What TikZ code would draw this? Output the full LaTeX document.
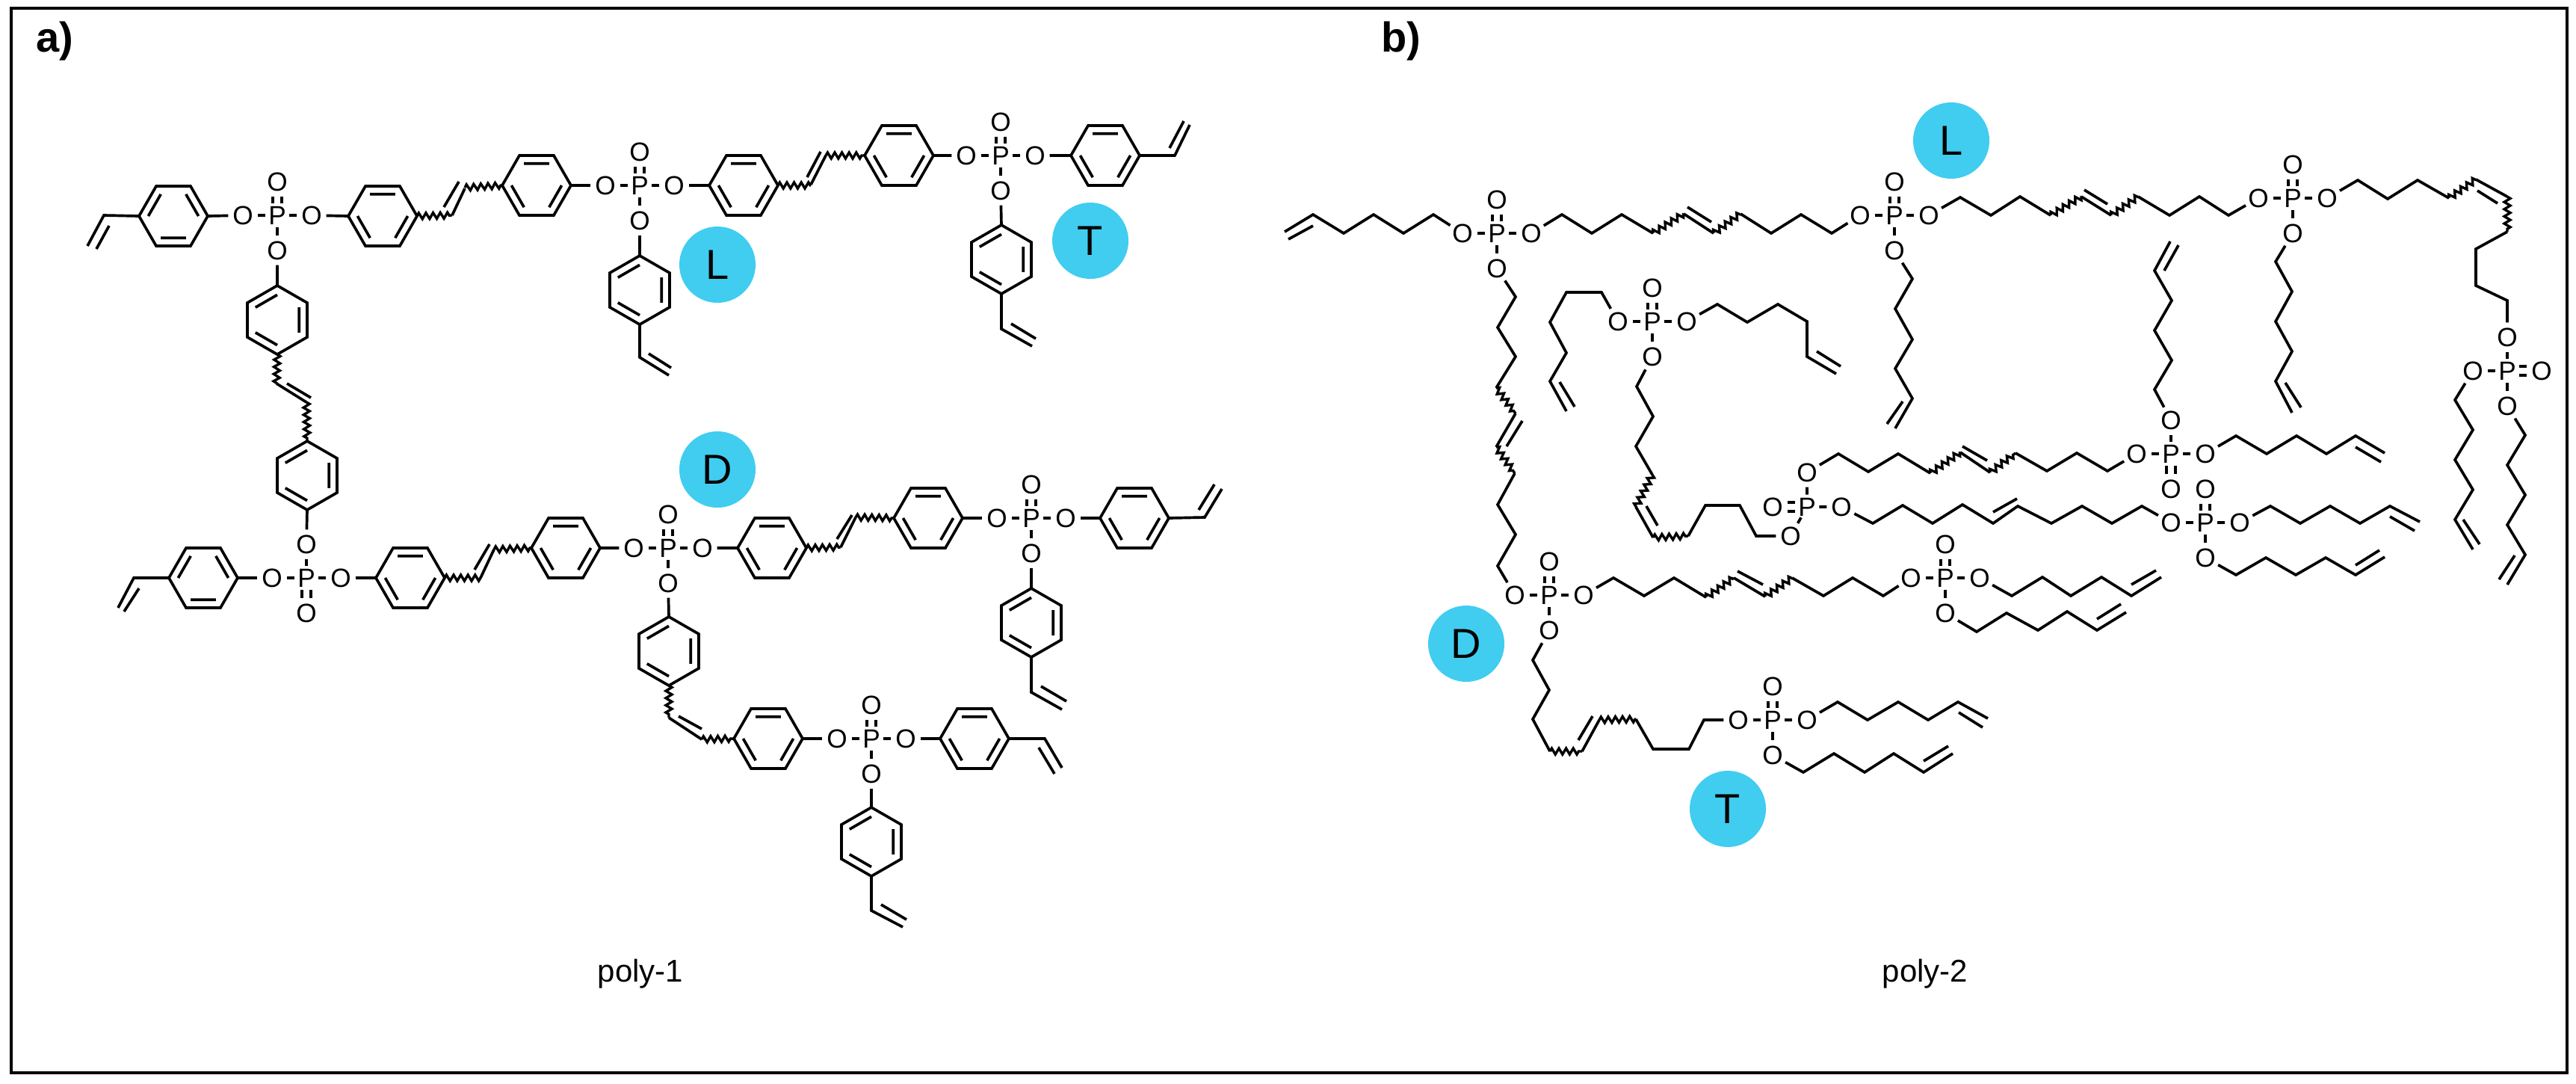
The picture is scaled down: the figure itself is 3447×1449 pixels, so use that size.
\documentclass[tikz,border=0pt]{standalone}
\usepackage{fontspec}
\setmainfont{Liberation Sans}
\usetikzlibrary{decorations.pathmorphing}
\definecolor{badgecol}{HTML}{40CDF0}
\tikzset{
  bd/.style={line width=0.92pt,line join=miter,black},
  wv/.style={bd,line width=0.85pt,decorate,decoration={zigzag,segment length=2.4pt,amplitude=1pt}},
  dblbd/.style={line width=0.85pt,double=white,double distance=2.2pt,black},
  oat/.style={circle,inner sep=0pt,minimum size=9.4pt,font=\fontsize{8.8}{9}\selectfont},
  pat/.style={circle,inner sep=0pt,minimum size=7.8pt,font=\fontsize{8.8}{9}\selectfont},
  badge/.style={circle,fill=badgecol,inner sep=0pt,minimum size=25.5pt,font=\fontsize{14}{16}\selectfont},
  captxt/.style={inner sep=0pt,font=\fontsize{10.5}{12}\selectfont},
  panel/.style={inner sep=0pt,font=\bfseries\fontsize{14}{16}\selectfont},
}
\newcommand{\atom}[1]{\raisebox{-.36em}[0pt][0pt]{\makebox[0pt]{#1}}}
% phosphate: id, x, y, side of the P=O double bond
\newcommand{\Phos}[4]{%
  \node[pat] (#1) at (#2,#3) {\atom{P}};
  \node[oat] (#1L) at (#2-46,#3) {\atom{O}};
  \node[oat] (#1R) at (#2+46,#3) {\atom{O}};
  \node[oat] (#1T) at (#2,#3-45) {\atom{O}};
  \node[oat] (#1B) at (#2,#3+47) {\atom{O}};
  \foreach \d in {L,R,T,B}{\if\d#4 \draw[dblbd] (#1)--(#1\d);\else \draw[bd] (#1)--(#1\d);\fi}%
}
% flat-topped ring: id, cx, cy, A or B
\newcommand{\RingF}[4]{%
  \coordinate (#1W) at (#2-46,#3);
  \coordinate (#1E) at (#2+46,#3);
  \draw[bd] (#1W)--(#2-23,#3-40)--(#2+23,#3-40)--(#1E)--(#2+23,#3+40)--(#2-23,#3+40)--cycle;
  \if A#4
    \draw[bd] (#2-33.6,#3)--(#2-16.8,#3-29.2) (#2+33.6,#3)--(#2+16.8,#3-29.2) (#2-16.8,#3+29.2)--(#2+16.8,#3+29.2);
  \else
    \draw[bd] (#2-16.8,#3-29.2)--(#2+16.8,#3-29.2) (#2-33.6,#3)--(#2-16.8,#3+29.2) (#2+33.6,#3)--(#2+16.8,#3+29.2);
  \fi
}
% pointy-topped ring: id, cx, cy
\newcommand{\RingP}[3]{%
  \coordinate (#1N) at (#2,#3-46);
  \coordinate (#1S) at (#2,#3+46);
  \draw[bd] (#1N)--(#2+40,#3-23)--(#2+40,#3+23)--(#1S)--(#2-40,#3+23)--(#2-40,#3-23)--cycle;
  \draw[bd] (#2-29.2,#3-16.8)--(#2,#3-33.6) (#2+29.2,#3-16.8)--(#2+29.2,#3+16.8) (#2-29.2,#3+16.8)--(#2,#3+33.6);
}
\begin{document}
\begin{tikzpicture}[x=0.25pt,y=-0.25pt]
\path[use as bounding box] (0,0) rectangle (3447,1449);
\draw[line width=1.1pt] (15,11) rectangle (3435,1435);
\node[panel] (lba) at (73,55) {a)};
\node[panel] (lbb) at (1875,55) {b)};
\node[captxt] (capa) at (857,1303) {poly-1};
\node[captxt] (capb) at (2576,1303) {poly-2};
% badges
\node[badge] (b1L) at (960,354) {L};
\node[badge] (b1T) at (1459,322) {T};
\node[badge] (b1D) at (960,628) {D};
\node[badge] (b2L) at (2611,188) {L};
\node[badge] (b2D) at (1962,861) {D};
\node[badge] (b2T) at (2312,1082) {T};
%% ---------- poly-1 ----------
\Phos{pa}{371}{288}{T}
\RingF{ra}{232}{289}{A}
\RingF{rb}{512}{289}{B}
\RingP{rc}{371}{428}
\draw[bd] (raE)--(paL) (paR)--(rbW) (paB)--(rcN);
\draw[bd] (raW)--(139,288)--(117,329) (146,302)--(129,333);
\draw[wv] (rcS)--(370,513);
\draw[bd] (370,513)--(410,538) (384,513)--(416,532);
\RingP{rd}{411}{636}
\draw[wv] (410,538)--(rdN);
\Phos{pb}{410}{773}{B}
\draw[bd] (rdS)--(pbT);
\RingF{re}{272}{773}{A}
\RingF{rf}{549}{773}{B}
\draw[bd] (reE)--(pbL) (pbR)--(rfW);
\draw[bd] (reW)--(179,773)--(158,813) (186,787)--(166,818);
\draw[wv] (rfE)--(643,773);
\draw[bd] (643,773)--(661,735) (635,762)--(655,728);
\RingF{rg}{757}{733}{B}
\draw[wv] (661,735)--(rgW);
\Phos{pc}{894}{733}{T}
\RingF{rh}{1033}{733}{B}
\RingP{ri}{895}{871}
\draw[bd] (rgE)--(pcL) (pcR)--(rhW) (pcB)--(riN);
\draw[wv] (rhE)--(1125,732);
\draw[bd] (1125,732)--(1145,692) (1120,721)--(1140,689);
\RingF{rj}{1242}{693}{B}
\draw[wv] (1145,692)--(rjW);
\Phos{pd}{1380}{693}{T}
\RingP{rk}{1380}{833}
\RingF{rl}{1518}{693}{B}
\draw[bd] (rjE)--(pdL) (pdR)--(rlW) (pdB)--(rkN);
\draw[bd] (rkS)--(1380,926)--(1421,949) (1393,918)--(1427,938);
\draw[bd] (rlE)--(1612,692)--(1635,654) (1604,682)--(1625,648);
\draw[wv] (riS)--(895,960);
\draw[bd] (895,960)--(939,989) (908,958)--(939,975);
\RingF{rm}{1028}{988}{B}
\draw[wv] (939,989)--(rmW);
\Phos{pe}{1166}{988}{T}
\RingP{rn}{1166}{1126}
\RingF{ro}{1304}{988}{B}
\draw[bd] (rmE)--(peL) (peR)--(roW) (peB)--(rnN);
\draw[bd] (rnS)--(1166,1218)--(1208,1240) (1179,1210)--(1213,1230);
\draw[bd] (roE)--(1398,988)--(1421,1027) (1390,1000)--(1411,1035);
% top row
\draw[wv] (rbE)--(605,288);
\draw[bd] (605,288)--(622,252) (594,277)--(614,243);
\RingF{rp}{718}{248}{B}
\draw[wv] (622,251)--(rpW);
\Phos{pf}{856}{248}{T}
\RingP{rq}{856}{388}
\RingF{rr}{995}{248}{B}
\draw[bd] (rpE)--(pfL) (pfR)--(rrW) (pfB)--(rqN);
\draw[bd] (rqS)--(856,478)--(895,502) (868,473)--(898,492);
\draw[wv] (rrE)--(1085,248);
\draw[bd] (1085,247)--(1105,208) (1080,237)--(1098,203);
\RingF{rs}{1203}{208}{B}
\draw[wv] (1105,208)--(rsW);
\Phos{pg}{1339}{208}{T}
\RingP{rt}{1340}{347}
\RingF{ru}{1479}{208}{B}
\draw[bd] (rsE)--(pgL) (pgR)--(ruW) (pgB)--(rtN);
\draw[bd] (rtS)--(1340,440)--(1381,463) (1353,433)--(1386,453);
\draw[bd] (ruE)--(1572,208)--(1592,167) (1565,198)--(1584,162);
%% ---------- poly-2 ----------
\Phos{qa}{2003}{312}{T}
\Phos{qb}{2535}{288}{T}
\Phos{qc}{3068}{265}{T}
\Phos{qd}{3355}{496}{R}
\Phos{qe}{2073}{796}{T}
\Phos{qf}{2603}{773}{T}
\Phos{qg}{2372}{963}{T}
\Phos{qh}{2211}{430}{T}
\Phos{qj}{2905}{607}{B}
\Phos{qk}{2951}{699}{T}
\node[pat] (qi) at (2418,678) {\atom{P}};
\node[oat] (qiL) at (2372,678) {\atom{O}};
\node[oat] (qiR) at (2464,678) {\atom{O}};
\node[oat] (qiT) at (2418,632) {\atom{O}};
\node[oat] (qiB) at (2396,717) {\atom{O}};
\draw[dblbd] (qi)--(qiL);
\draw[bd] (qi)--(qiR) (qi)--(qiT) (qi)--(qiB);
% top backbone
\draw[bd] (1719,310)--(1757,287)--(1798,312)--(1838,287)--(1878,312)--(1918,287)--(qaL) (1724,320)--(1757,302);
\draw[bd] (qaR)--(2090,287)--(2130,312)--(2170,287)--(2212,312);
\draw[wv] (2212,312)--(2253,286);
\draw[bd] (2253,286)--(2293,312) (2258,277)--(2290,297);
\draw[wv] (2293,312)--(2329,286);
\draw[bd] (2329,286)--(2370,312)--(2410,287)--(2451,312)--(qbL);
\draw[bd] (qbR)--(2623,264)--(2664,288)--(2703,263)--(2744,288);
\draw[wv] (2744,288)--(2785,263);
\draw[bd] (2785,263)--(2825,288) (2789,254)--(2820,273);
\draw[wv] (2825,288)--(2861,263);
\draw[bd] (2861,263)--(2903,288)--(2943,263)--(2982,288)--(qcL);
\draw[bd] (qcR)--(3155,241)--(3195,266)--(3235,241)--(3277,265);
\draw[wv] (3277,265)--(3313,240);
\draw[bd] (3313,240)--(3355,263) (3315,255)--(3342,272);
\draw[wv] (3355,263)--(3355,310);
\draw[bd] (3355,310)--(3313,333)--(3313,382)--(3355,402)--(qdT);
% far right tails
\draw[bd] (qdL)--(3285,535)--(3309,575)--(3285,615)--(3309,655)--(3285,695)--(3309,735) (3296,695)--(3318,728);
\draw[bd] (qdB)--(3379,582)--(3355,622)--(3379,662)--(3355,702)--(3379,742)--(3355,782) (3365,743)--(3344,775);
% pendant tails of qb, qc
\draw[bd] (qbB)--(2559,373)--(2536,413)--(2559,454)--(2536,493)--(2559,533)--(2536,573) (2546,537)--(2525,567);
\draw[bd] (qcB)--(3045,350)--(3067,390)--(3045,430)--(3067,470)--(3045,510)--(3067,552) (3058,512)--(3079,545);
% chain qa to qe
\draw[bd] (qaB)--(2028,397)--(2004,438)--(2028,477)--(2002,519);
\draw[wv] (2002,519)--(2028,553);
\draw[bd] (2028,553)--(2002,598) (2037,563)--(2016,597);
\draw[wv] (2002,598)--(2027,633);
\draw[bd] (2027,633)--(2004,675)--(2028,715)--(2004,757)--(qeL);
% qe to qf
\draw[bd] (qeR)--(2159,773)--(2200,797)--(2240,773)--(2283,799);
\draw[wv] (2283,799)--(2320,773);
\draw[bd] (2320,773)--(2362,798) (2325,764)--(2359,782);
\draw[wv] (2362,798)--(2398,773);
\draw[bd] (2398,773)--(2440,797)--(2479,773)--(2520,797)--(qfL);
\draw[bd] (qfR)--(2692,797)--(2733,772)--(2771,797)--(2812,772)--(2852,797)--(2892,772) (2852,782)--(2885,763);
\draw[bd] (qfB)--(2645,845)--(2685,820)--(2727,843)--(2766,818)--(2806,843)--(2845,819) (2806,828)--(2838,808);
% qe to qg
\draw[bd] (qeB)--(2051,883)--(2073,923)--(2051,962)--(2074,1005);
\draw[wv] (2074,1005)--(2117,1005);
\draw[bd] (2117,1005)--(2140,963) (2112,990)--(2131,958);
\draw[wv] (2140,963)--(2189,962);
\draw[bd] (2189,962)--(2212,1002)--(2260,1002)--(2280,963)--(qgL);
\draw[bd] (qgR)--(2459,939)--(2499,963)--(2540,939)--(2580,963)--(2620,939)--(2660,961) (2621,953)--(2653,973);
\draw[bd] (qgB)--(2413,1033)--(2454,1008)--(2495,1033)--(2534,1008)--(2574,1033)--(2613,1008) (2574,1018)--(2607,998);
% qh tails and chain to qi
\draw[bd] (qhL)--(2143,391)--(2096,391)--(2074,431)--(2096,472)--(2074,510)--(2096,550) (2087,511)--(2107,544);
\draw[bd] (qhR)--(2298,407)--(2338,431)--(2379,407)--(2418,430)--(2418,477)--(2457,500) (2431,470)--(2463,490);
\draw[bd] (qhB)--(2190,517)--(2212,557)--(2189,597)--(2211,635);
\draw[wv] (2211,635)--(2189,678);
\draw[bd] (2189,678)--(2212,719) (2203,677)--(2218,703);
\draw[wv] (2212,719)--(2259,717);
\draw[bd] (2259,717)--(2282,676)--(2328,676)--(2350,717)--(qiB);
% qi to qj
\draw[bd] (qiT)--(2460,607)--(2500,631)--(2540,607)--(2583,633);
\draw[wv] (2583,633)--(2623,605);
\draw[bd] (2623,605)--(2663,632) (2626,597)--(2659,616);
\draw[wv] (2663,632)--(2697,606);
\draw[bd] (2697,606)--(2739,630)--(2779,606)--(2820,630)--(qjL);
\draw[bd] (qjR)--(2992,583)--(3033,607)--(3073,583)--(3113,607)--(3152,583)--(3191,606) (3152,598)--(3186,618);
\draw[bd] (qjT)--(2883,521)--(2906,482)--(2883,442)--(2906,402)--(2883,362)--(2904,323) (2896,362)--(2915,328);
% qi to qk
\draw[bd] (qiR)--(2506,700)--(2546,676)--(2586,700)--(2626,675)--(2667,700)--(2700,677)--(2745,700)--(2786,677)--(2826,700)--(2866,677)--(qkL) (2667,685)--(2699,667);
\draw[bd] (qkR)--(3038,677)--(3078,700)--(3118,677)--(3158,700)--(3198,677)--(3238,698) (3198,691)--(3231,710);
\draw[bd] (qkB)--(2992,769)--(3032,746)--(3072,769)--(3112,746)--(3152,769)--(3191,745) (3152,756)--(3184,736);
\end{tikzpicture}
\end{document}
